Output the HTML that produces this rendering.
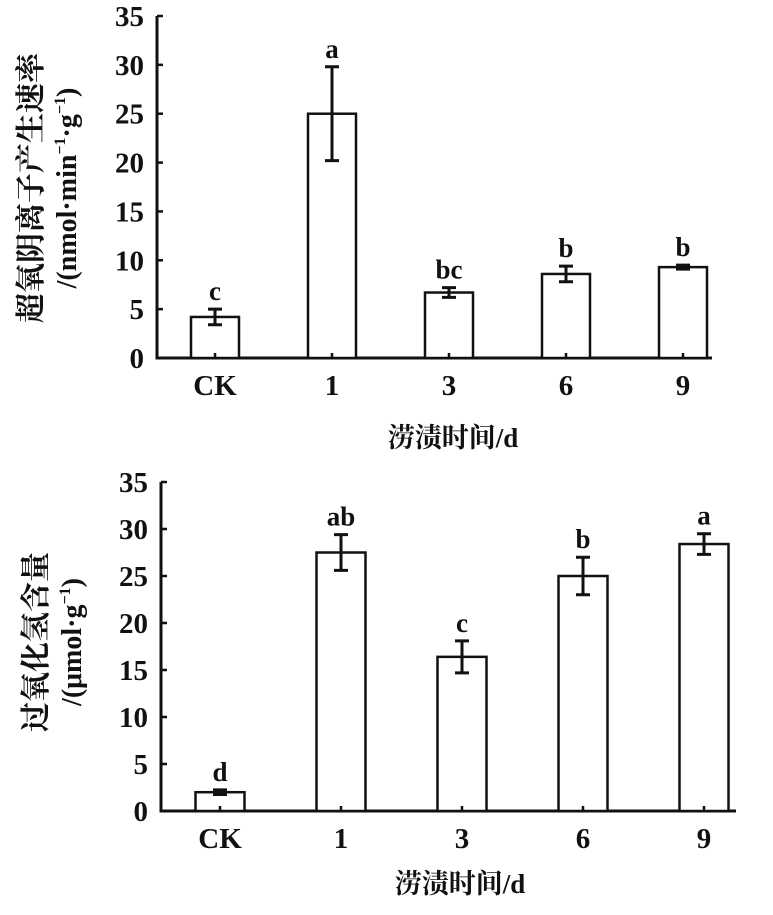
<!DOCTYPE html>
<html><head><meta charset="utf-8">
<style>
html,body{margin:0;padding:0;background:#fff;}
svg text{font-family:"Liberation Serif","Noto Serif CJK SC",serif;fill:#111;}
</style></head>
<body>
<svg id="svg" width="773" height="910" viewBox="0 0 773 910" xmlns="http://www.w3.org/2000/svg"></svg>
<script>
const categories = ["CK","1","3","6","9"];
const topValues = [4.2, 25.0, 6.7, 8.6, 9.3];
const topErrors = [0.8, 4.8, 0.5, 0.8, 0.2];
const topLetters = ["c","a","bc","b","b"];
const botValues = [2.0, 27.5, 16.4, 25.0, 28.4];
const botErrors = [0.25, 1.9, 1.7, 2.0, 1.1];
const botLetters = ["d","ab","c","b","a"];
const yTicks = [0,5,10,15,20,25,30,35];

const NS = "http://www.w3.org/2000/svg";
const svg = document.getElementById("svg");
function mk(tag, attrs, parent){
  const e = document.createElementNS(NS, tag);
  for (const k in attrs) e.setAttribute(k, attrs[k]);
  (parent||svg).appendChild(e);
  return e;
}

function drawChart(cfg, values, errors, letters, prefix){
  const g = mk("g", {});
  
  
  const y = v => cfg.y0 - (v/35)*(cfg.y0 - cfg.y35);
  const x = i => cfg.c0 + i*cfg.step;
  const ya = mk("line", {x1:cfg.ax, y1:y(35), x2:cfg.ax, y2:cfg.y0, stroke:"#111","stroke-width":3}, g);
  
  
  const xa = mk("line", {x1:cfg.ax-1.5, y1:cfg.y0, x2:cfg.xEnd, y2:cfg.y0, stroke:"#111","stroke-width":3}, g);
  
  
  yTicks.forEach(t => {
    const tk = mk("line", {x1:cfg.ax, y1:y(t), x2:cfg.ax+6, y2:y(t), stroke:"#111","stroke-width":2.5}, g);
    
    
    const tl = mk("text", {x:cfg.ax-13, y:y(t)+10, "text-anchor":"end","font-size":29,"font-weight":"bold"}, g);
    tl.textContent = t;
    
    
  });
  categories.forEach((c,i) => {
    const cx = x(i);
    const bar = mk("rect", {x:cx-cfg.bw/2, y:y(values[i]), width:cfg.bw, height:cfg.y0-y(values[i]), fill:"#fff", stroke:"#111","stroke-width":2.5}, g);
    
    
    const tk = mk("line", {x1:cx, y1:cfg.y0-5, x2:cx, y2:cfg.y0, stroke:"#111","stroke-width":2.5}, g);
    
    
    const hi = y(values[i]+errors[i]), lo = y(values[i]-errors[i]);
    const eb = mk("path", {d:`M${cx},${hi}V${lo}M${cx-7},${hi}H${cx+7}M${cx-7},${lo}H${cx+7}`, stroke:"#111","stroke-width":3, fill:"none"}, g);
    
    
    const lt = mk("text", {x:cx, y:hi-9, "text-anchor":"middle","font-size":27,"font-weight":"bold"}, g);
    lt.textContent = letters[i];
    
    
    const xl = mk("text", {x:cx, y:cfg.y0+37, "text-anchor":"middle","font-size":29,"font-weight":"bold"}, g);
    xl.textContent = c;
    
    
  });
  const xt = mk("text", {x:cfg.xTitleX, y:cfg.xTitleY, "text-anchor":"middle","font-size":27,"font-weight":"bold"}, g);
  xt.textContent = "涝渍时间/d";
  
  
  const yt1 = mk("text", {x:0, y:0, "text-anchor":"middle","font-size":cfg.t1fs,"font-weight":"bold", transform:`translate(${cfg.t1x},${cfg.tcy}) rotate(-90)`}, g);
  yt1.textContent = cfg.title1;
  
  
  const yt2 = mk("text", {x:0, y:0, "text-anchor":"middle","font-size":28,"font-weight":"bold", transform:`translate(${cfg.t2x},${cfg.tcy}) rotate(-90)`}, g);
  yt2.innerHTML = cfg.title2;
  
  
}

drawChart({ax:157, y0:358, y35:16, c0:215, step:117, bw:48, xEnd:712, xTitleX:453, xTitleY:447,
  t1x:41, t2x:76, tcy:188, t1fs:30, title1:"超氧阴离子产生速率",
  title2:'/(nmol·min<tspan dy="-11" font-size="16">−1</tspan><tspan dy="11">·g</tspan><tspan dy="-11" font-size="16">−1</tspan><tspan dy="11">)</tspan>'},
  topValues, topErrors, topLetters, "superoxide");

drawChart({ax:161, y0:811, y35:482, c0:220, step:121, bw:49, xEnd:736, xTitleX:460, xTitleY:893,
  t1x:46, t2x:81, tcy:642, t1fs:30, title1:"过氧化氢含量",
  title2:'/(μmol·g<tspan dy="-11" font-size="16">−1</tspan><tspan dy="11">)</tspan>'},
  botValues, botErrors, botLetters, "h2o2");
</script>
</body></html>
